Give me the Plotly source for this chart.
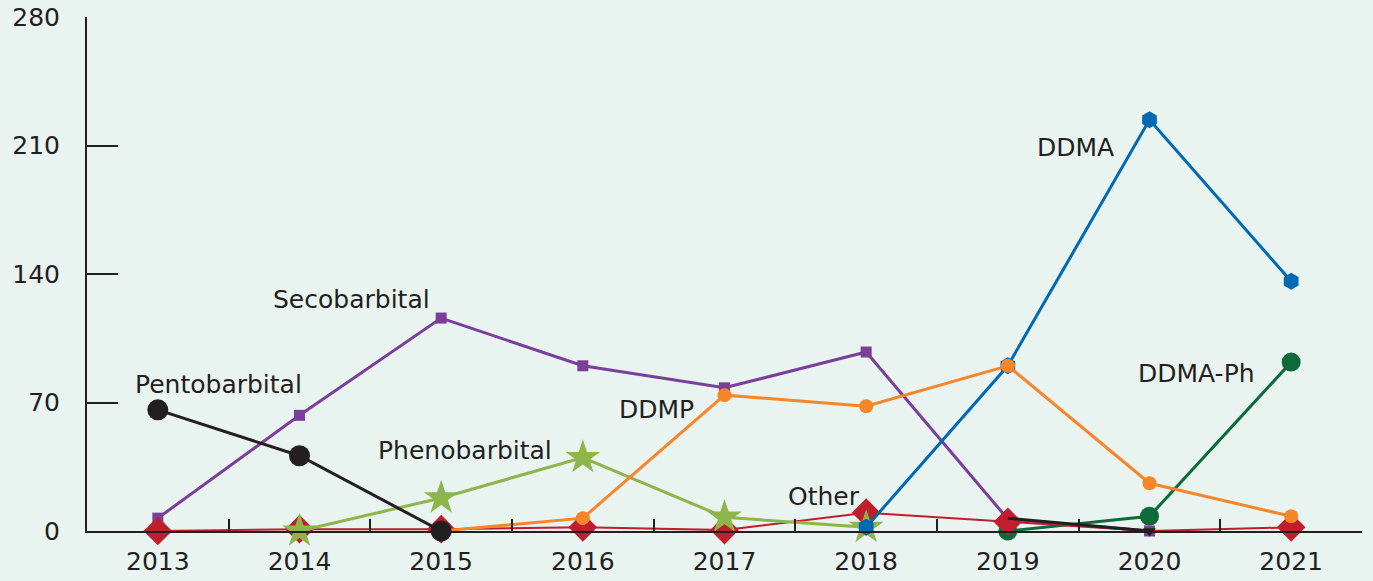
import plotly.graph_objects as go

years = ["2013", "2014", "2015", "2016", "2017", "2018", "2019", "2020", "2021"]
pentobarbital = [66, 41, 0, None, None, None, 7, 0, None]
secobarbital = [7, 63, 116, 90, 78, 97.5, 6.5, 0, None]
phenobarbital = [None, 0, 18, 40, 7.5, 2, None, None, None]
ddmp = [None, None, 0, 7, 74, 68, 90, 26, 8]
ddma = [None, None, None, None, None, 2, 90, 224, 136]
ddma_ph = [None, None, None, None, None, None, 0, 8, 92]
other = [0, 1, 1, 2, 0.5, 10, 5, 0, 2]

y_ticks = [0, 70, 140, 210, 280]

label_names = ["DDMA", "DDMA-Ph", "Secobarbital", "Pentobarbital", "Phenobarbital", "DDMP", "Other"]
label_x = [6.48, 7.33, 1.37, 0.43, 2.17, 3.52, 4.7]
label_y = [209, 86, 126, 80, 44, 66, 19]

INK = "#231F20"
FONT = "DejaVu Sans"
FS = 25

fig = go.Figure()

def add(name, vals, color, symbol, size, width):
    fig.add_trace(go.Scatter(
        x=years, y=vals, name=name, mode="lines+markers",
        line=dict(color=color, width=width),
        marker=dict(color=color, symbol=symbol, size=size, opacity=1, line=dict(width=0)),
        cliponaxis=False, connectgaps=False, hoverinfo="skip",
    ))

add("DDMA-Ph", ddma_ph, "#0C6A3B", "circle", 19, 3)
add("Secobarbital", secobarbital, "#7B3F9A", "square", 11, 3)
add("Other", other, "#BE1E2D", "diamond",
    [22, 22, 22, 22, 22, 22, 22, 0, 22], 2)
add("Phenobarbital", phenobarbital, "#8DB54A", "star", 26, 3)
add("DDMA", ddma, "#0069B4", "hexagon", 17, 3)
add("DDMP", ddmp, "#F7862A", "circle", 14, 3)
add("Pentobarbital", pentobarbital, INK,
    ["circle", "circle", "circle", "circle", "circle", "circle", "circle", "triangle-down", "circle"],
    [21, 21, 21, 21, 21, 21, 0, 11, 21], 3)

for name, lx, ly in zip(label_names, label_x, label_y):
    fig.add_annotation(x=lx, y=ly, xref="x", yref="y", text=name, showarrow=False,
                       font=dict(family=FONT, size=FS, color=INK))

fig.update_layout(
    width=1373, height=581,
    margin=dict(l=87, r=11, t=17, b=50, autoexpand=False),
    paper_bgcolor="#E9F3EF", plot_bgcolor="#E9F3EF",
    showlegend=False,
    font=dict(family=FONT, size=FS, color=INK),
)
fig.update_xaxes(
    type="category", range=[-0.5, 8.5], tickson="boundaries",
    ticks="inside", ticklen=12, tickwidth=2, tickcolor=INK,
    showline=True, linecolor=INK, linewidth=2, showgrid=False, zeroline=False,
    tickfont=dict(family=FONT, size=FS, color=INK), ticklabelstandoff=7,
    automargin=False,
)
fig.update_yaxes(
    range=[0, 280.01], tickvals=y_ticks, ticks="inside", ticklen=31, tickwidth=2,
    tickcolor=INK, showline=True, linecolor=INK, linewidth=2, showgrid=False,
    zeroline=False, tickfont=dict(family=FONT, size=FS, color=INK),
    ticklabelstandoff=20, automargin=False,
)

fig.write_html("out.html", config={"displayModeBar": False},
               post_script="document.body.style.margin='0';document.body.style.background='#E9F3EF';")
